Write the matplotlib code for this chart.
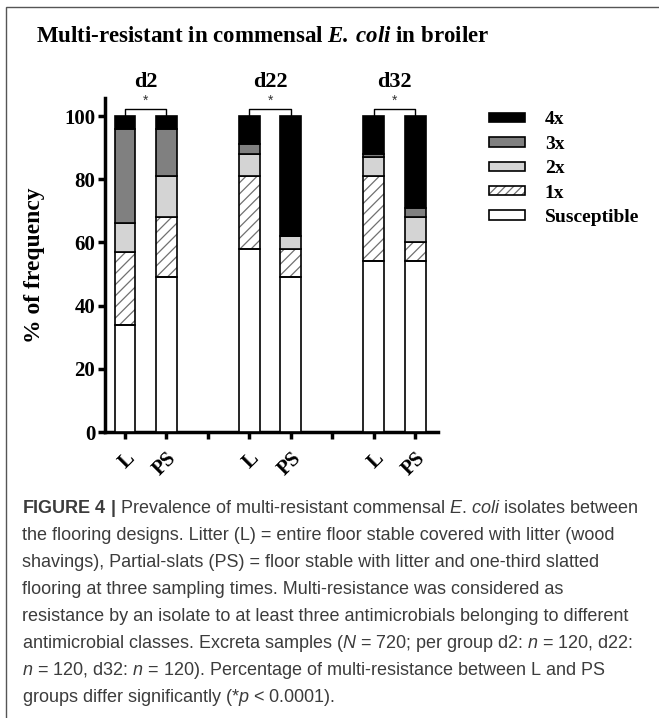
import matplotlib
matplotlib.use("Agg")
import matplotlib.pyplot as plt
from matplotlib.patches import Rectangle, Patch
from matplotlib.legend_handler import HandlerTuple

# ---------------- data ----------------
groups = ["d2", "d22", "d32"]
tick_labels = ["L", "PS", "", "L", "PS", "", "L", "PS"]
bar_labels = ["L", "PS", "L", "PS", "L", "PS"]
categories = ["Susceptible", "1x", "2x", "3x", "4x"]
susceptible = [34, 49, 58, 49, 54, 54]
one_x = [23, 19, 23, 9, 27, 6]
two_x = [9, 13, 7, 4, 6, 8]
three_x = [30, 15, 3, 0, 1, 3]
four_x = [4, 4, 9, 38, 12, 29]
y_ticks = [0, 20, 40, 60, 80, 100]

plt.rcParams["mathtext.fontset"] = "custom"
plt.rcParams["mathtext.it"] = "Liberation Sans:italic"
plt.rcParams["mathtext.rm"] = "Liberation Sans"
plt.rcParams["mathtext.bf"] = "Liberation Sans:bold"
plt.rcParams["mathtext.cal"] = "Liberation Serif:bold:italic"
plt.rcParams["hatch.linewidth"] = 0.9

SERIF = "Liberation Serif"
SANS = "Liberation Sans"

W, H = 659, 718
fig = plt.figure(figsize=(W / 100, H / 100), dpi=100)

def fx(px):
    return px / W

def fy(py):
    return 1 - py / H

# border
fig.add_artist(Rectangle((fx(6), fy(740)), fx(700), fy(7) - fy(740),
                         transform=fig.transFigure, fill=False,
                         edgecolor="#555555", lw=1.0))

ax = fig.add_axes([fx(105), fy(432), fx(438) - fx(105), fy(98) - fy(432)])

x_pos = [0, 1, 3, 4, 6, 7]
width = 0.5
edge_lw = 1.2

series = [susceptible, one_x, two_x, three_x, four_x]
colors = ["white", "white", "#d4d4d4", "#808080", "black"]
bottom = [0] * 6
handles = []
for i, (vals, col) in enumerate(zip(series, colors)):
    if categories[i] == "1x":
        ax.bar(x_pos, vals, width, bottom=bottom, color="white",
               edgecolor="#707070", hatch="///", lw=0, zorder=2)
        ax.bar(x_pos, vals, width, bottom=bottom, fill=False,
               edgecolor="black", lw=edge_lw, zorder=3)
        h = (Patch(facecolor="white", edgecolor="#707070", hatch="////", lw=0),
             Patch(fill=False, edgecolor="black", lw=edge_lw))
    else:
        ax.bar(x_pos, vals, width, bottom=bottom, color=col,
               edgecolor="black", lw=edge_lw, zorder=3)
        h = Patch(facecolor=col, edgecolor="black", lw=edge_lw)
    handles.append(h)
    bottom = [b + v for b, v in zip(bottom, vals)]

# significance brackets and group labels
for g in range(3):
    xa, xb = x_pos[2 * g], x_pos[2 * g + 1]
    top = max(bottom[2 * g], bottom[2 * g + 1])
    ax.plot([xa, xa, xb, xb], [top, top + 2.3, top + 2.3, top],
            color="black", lw=1.0, clip_on=False, zorder=4)
    ax.text((xa + xb) / 2, top + 2.6, "*", ha="center", va="bottom",
            fontsize=10, family=SANS, color="#333333")
    ax.text((xa + xb) / 2, 109.3, groups[g], ha="center", va="baseline",
            fontsize=16, family=SERIF, fontweight="bold", clip_on=False)

ax.set_xlim(-0.48, 7.55)
ax.set_ylim(0, 105.7)
ax.set_xticks(range(8))
ax.set_xticklabels(tick_labels, rotation=45, ha="right", va="top",
                   rotation_mode="anchor", family=SERIF, fontweight="bold",
                   fontsize=15)
ax.set_yticks(y_ticks)
ax.set_yticklabels([str(t) for t in y_ticks], family=SERIF,
                   fontweight="bold", fontsize=15)
ax.tick_params(axis="both", width=2.5, length=5, direction="out")
ax.tick_params(axis="x", pad=7)
ax.tick_params(axis="y", pad=2)
for s in ["top", "right"]:
    ax.spines[s].set_visible(False)
for s in ["left", "bottom"]:
    ax.spines[s].set_linewidth(2.5)
ax.set_ylabel("% of frequency", family=SERIF, fontweight="bold",
              fontsize=17, labelpad=14)

leg = ax.legend(handles[::-1], categories[::-1],
                handler_map={tuple: HandlerTuple(ndivide=1, pad=0)},
                loc="upper left", bbox_to_anchor=(fx(471), fy(94)),
                bbox_transform=fig.transFigure, frameon=False,
                prop={"family": SERIF, "weight": "bold", "size": 14},
                handlelength=1.9, handleheight=0.36, labelspacing=0.38,
                handletextpad=1.0, borderpad=0.4)

# title
fig.text(fx(36), fy(42), r"Multi-resistant in commensal $\mathcal{E.\,coli}$ in broiler",
         family=SERIF, fontweight="bold", fontsize=16.5, ha="left",
         va="baseline")

# caption
cap = [
    r"$\mathbf{FIGURE\ 4\ |}$ Prevalence of multi-resistant commensal $\mathit{E.\,coli}$ isolates between",
    "the flooring designs. Litter (L) = entire floor stable covered with litter (wood",
    "shavings), Partial-slats (PS) = floor stable with litter and one-third slatted",
    "flooring at three sampling times. Multi-resistance was considered as",
    "resistance by an isolate to at least three antimicrobials belonging to different",
    r"antimicrobial classes. Excreta samples ($\mathit{N}$ = 720; per group d2: $\mathit{n}$ = 120, d22:",
    r"$\mathit{n}$ = 120, d32: $\mathit{n}$ = 120). Percentage of multi-resistance between L and PS",
    r"groups differ significantly (*$\mathit{p}$ < 0.0001).",
]
for i, line in enumerate(cap):
    fig.text(fx(22), fy(513 + 27.0 * i), line, family=SANS, fontsize=13,
             color="#3c3c3c", ha="left", va="baseline")

fig.savefig("out.png", dpi=100)
